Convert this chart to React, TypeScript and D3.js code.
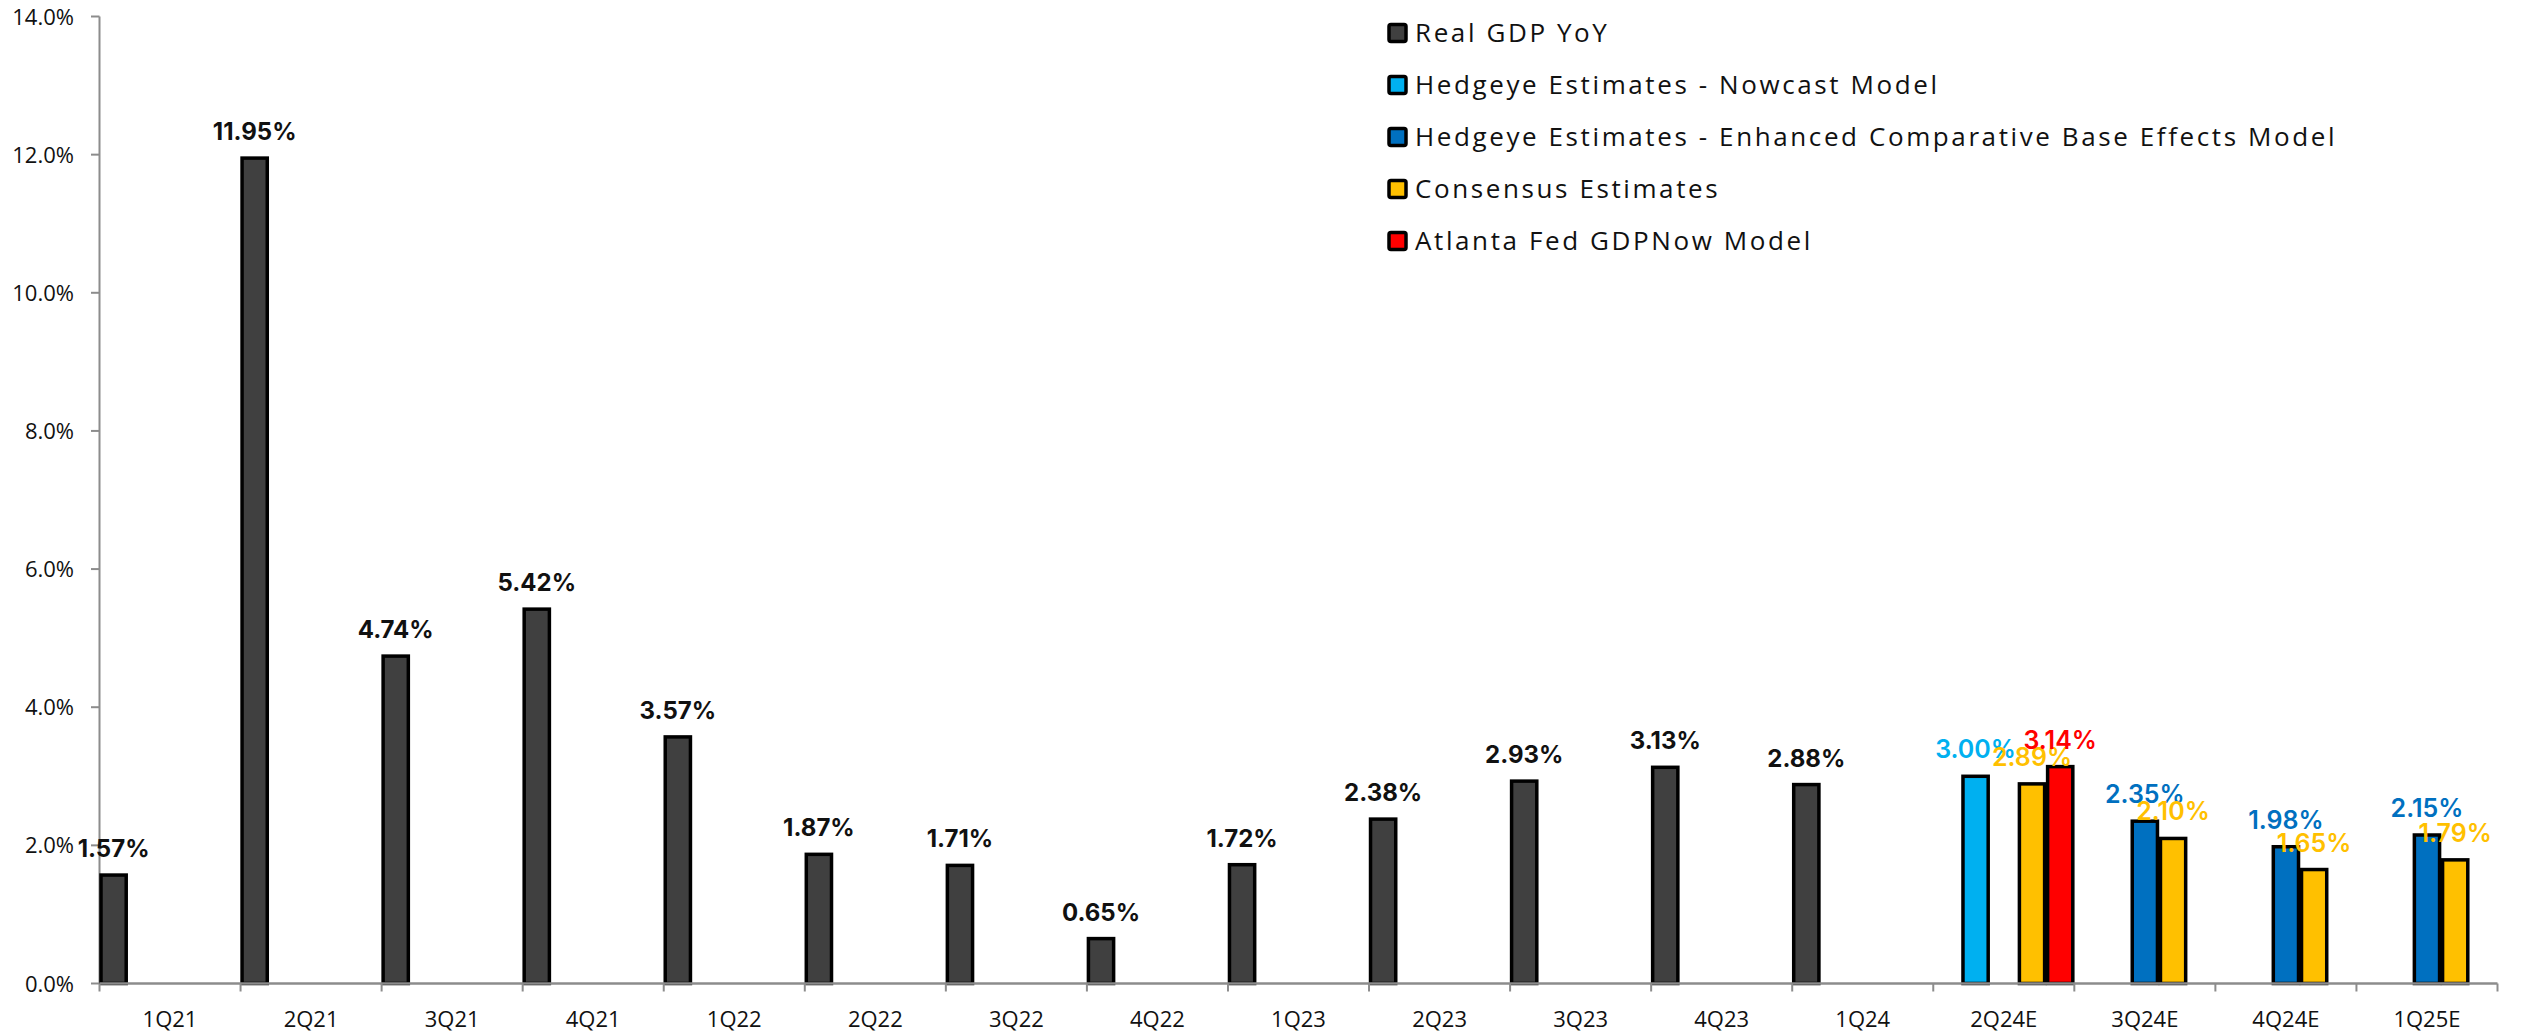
import React from "react";
import * as d3 from "d3";

const categories = ["1Q21","2Q21","3Q21","4Q21","1Q22","2Q22","3Q22","4Q22","1Q23","2Q23","3Q23","4Q23","1Q24","2Q24E","3Q24E","4Q24E","1Q25E"];
const seriesNames = ["Real GDP YoY","Hedgeye Estimates - Nowcast Model","Hedgeye Estimates - Enhanced Comparative Base Effects Model","Consensus Estimates","Atlanta Fed GDPNow Model"];
const seriesColors = ["#404040","#00B0F0","#0070C0","#FFC000","#FF0000"];
const labelColors = ["#111111","#00B0F0","#0070C0","#FFC000","#FF0000"];
const realGDP: (number|null)[] = [1.57,11.95,4.74,5.42,3.57,1.87,1.71,0.65,1.72,2.38,2.93,3.13,2.88,null,null,null,null];
const nowcast: (number|null)[] = [null,null,null,null,null,null,null,null,null,null,null,null,null,3.00,null,null,null];
const enhanced: (number|null)[] = [null,null,null,null,null,null,null,null,null,null,null,null,null,null,2.35,1.98,2.15];
const consensus: (number|null)[] = [null,null,null,null,null,null,null,null,null,null,null,null,null,2.89,2.10,1.65,1.79];
const atlanta: (number|null)[] = [null,null,null,null,null,null,null,null,null,null,null,null,null,3.14,null,null,null];
const yTicks = [0,2,4,6,8,10,12,14];

const allSeries = [realGDP, nowcast, enhanced, consensus, atlanta];

export default function App() {
  const W = 2521, H = 1034;
  const x = d3.scaleBand<string>().domain(categories).range([99.5, 2497.5]).padding(0);
  const inner = d3.scaleBand<number>().domain([0,1,2,3,4]).range([0, x.bandwidth()]).padding(0);
  const y = d3.scaleLinear().domain([0, 14]).range([983.5, 16.5]);
  const axisColor = "#8c8c8c";
  const fontLabel = "Inter, 'Open Sans', sans-serif";
  const fontTick = "'Open Sans', 'Noto Sans', sans-serif";

  const bars: any[] = [];
  const labels: any[] = [];
  allSeries.forEach((vals, si) => {
    vals.forEach((v, ci) => {
      if (v == null) return;
      const bx = (x(categories[ci]) as number) + (inner(si) as number);
      const bw = inner.bandwidth();
      const top = y(v);
      bars.push(
        <rect key={`b${si}-${ci}`} x={bx + 1.5} y={top} width={bw - 3} height={y(0) - top}
          fill={seriesColors[si]} stroke="#000" strokeWidth={3.5} />
      );
      labels.push(
        <text key={`l${si}-${ci}`} x={bx + bw / 2} y={top - 18} textAnchor="middle"
          fontFamily={fontLabel} fontSize={si === 0 ? 24 : 25} fontWeight={si === 0 ? 700 : 600}
          fill={labelColors[si]}>{v.toFixed(2)}%</text>
      );
    });
  });

  return (
    <svg width={W} height={H} style={{ position: "absolute", left: 0, top: 0, background: "#fff" }}>
      <rect x={0} y={0} width={W} height={H} fill="#fff" />
      <line x1={99.5} x2={99.5} y1={y(14)} y2={y(0)} stroke={axisColor} strokeWidth={2} />
      {yTicks.map(t => (
        <g key={`yt${t}`}>
          <line x1={91} x2={99.5} y1={y(t)} y2={y(t)} stroke={axisColor} strokeWidth={2} />
          <text x={74} y={y(t) + 8} textAnchor="end" fontFamily={fontTick} fontSize={22} fill="#111">
            {t.toFixed(1)}%
          </text>
        </g>
      ))}
      {bars}
      <line x1={99.5} x2={2497.5} y1={y(0)} y2={y(0)} stroke={axisColor} strokeWidth={2.5} />
      {categories.map((c, i) => (
        <line key={`xt${i}`} x1={x(c) as number} x2={x(c) as number} y1={y(0)} y2={y(0) + 8} stroke={axisColor} strokeWidth={2} />
      ))}
      <line x1={2497.5} x2={2497.5} y1={y(0)} y2={y(0) + 8} stroke={axisColor} strokeWidth={2} />
      {categories.map((c) => (
        <text key={`xl${c}`} x={(x(c) as number) + x.bandwidth() / 2} y={1027} textAnchor="middle"
          fontFamily={fontTick} fontSize={22} fill="#111">{c}</text>
      ))}
      {labels}
      {seriesNames.map((n, i) => {
        const cy = 33 + i * 52;
        return (
          <g key={`lg${i}`}>
            <rect x={1389} y={cy - 8.5} width={17} height={17} rx={2} fill={seriesColors[i]} stroke="#000" strokeWidth={3.5} />
            <text x={1415} y={cy + 9} fontFamily="'Open Sans', sans-serif" fontSize={26} letterSpacing={2.6} fill="#111">{n}</text>
          </g>
        );
      })}
    </svg>
  );
}
